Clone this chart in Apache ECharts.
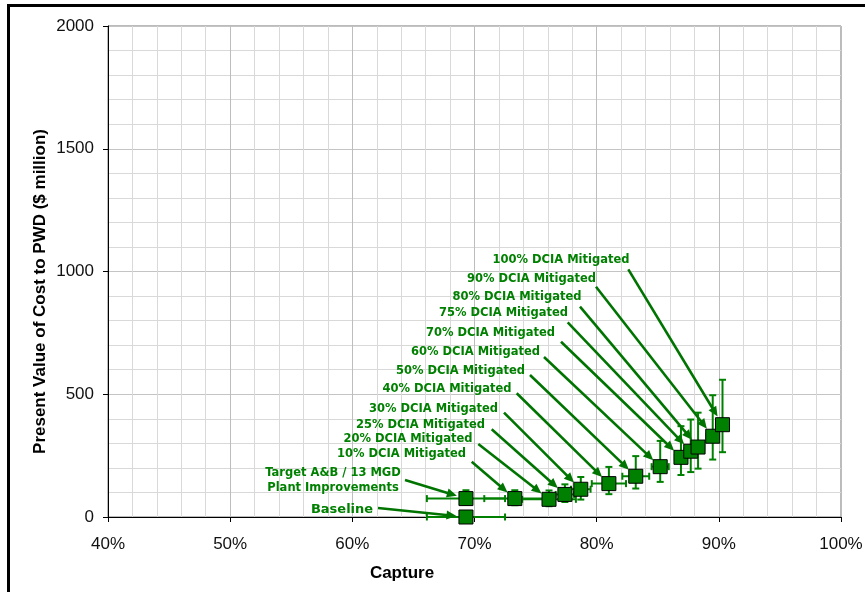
<!DOCTYPE html>
<html>
<head>
<meta charset="utf-8">
<script src="https://cdn.jsdelivr.net/npm/echarts@6/dist/echarts.min.js"></script>
<style>
html,body{margin:0;padding:0;background:#fff;}
#chart{width:865px;height:592px;}
</style>
</head>
<body>
<div id="chart"></div>
<script>
// ---------- DATA ----------
const categories = [
  'Baseline',
  'Target A&B / 13 MGD\nPlant Improvements',
  '10% DCIA Mitigated',
  '20% DCIA Mitigated',
  '25% DCIA Mitigated',
  '30% DCIA Mitigated',
  '40% DCIA Mitigated',
  '50% DCIA Mitigated',
  '60% DCIA Mitigated',
  '70% DCIA Mitigated',
  '75% DCIA Mitigated',
  '80% DCIA Mitigated',
  '90% DCIA Mitigated',
  '100% DCIA Mitigated'
];
const capturePct   = [69.3, 69.3, 73.3, 76.1, 77.4, 78.7, 81.0, 83.2, 85.2, 86.9, 87.7, 88.3, 89.5, 90.3];
const costMillion  = [0, 75, 75, 72, 92, 113, 136, 166, 205, 243, 268, 285, 329, 376];
const costErrUp    = [0, 34, 34, 36, 41, 50, 68, 82, 105, 127, 129, 140, 167, 183];
const costErrDown  = [0, 25, 27, 28, 31, 42, 43, 50, 62, 72, 85, 88, 95, 112];
const captureErr   = [3.2, 3.2, 2.5, 2.2, 0.75, 0.8, 1.4, 1.1, 0.7, 0.5, 0.5, 0.5, 0.5, 0.4];

const xTicks = [40, 50, 60, 70, 80, 90, 100];
const yTicks = [0, 500, 1000, 1500, 2000];

// ---------- LAYOUT (pixel positions of annotation text and arrow tails) ----------
const labelCenters = [
  [342, 510], [333, 481], [401.5, 454.5], [408, 439.5], [420.5, 425.5], [433.5, 409],
  [447, 389], [460.5, 371], [475.5, 352], [490.5, 333], [503.5, 313], [517, 297],
  [531.5, 279], [561, 260]
];
const arrowStarts = [
  [378, 508], [405, 480], [471.7, 461.7], [478.3, 444], [491.7, 429.3], [504, 412.7],
  [516.7, 393.3], [530, 375], [544, 357], [561, 341.7], [567.7, 322.3], [580, 306.7],
  [596, 286.7], [628.3, 269.3]
];

const green = '#008000';
const arrowGreen = '#007400';
const labelFont = 'bold 11.5px "DejaVu Sans", Verdana, sans-serif';
const baselineFont = 'bold 13px "DejaVu Sans", Verdana, sans-serif';

const points = capturePct.map((x, i) => [x, costMillion[i], costErrUp[i], costErrDown[i], captureErr[i]]);

const chart = echarts.init(document.getElementById('chart'), null, {renderer: 'canvas'});

function errRender(params, api) {
  const x = api.value(0), y = api.value(1), up = api.value(2), dn = api.value(3), xe = api.value(4);
  const st = {stroke: green, lineWidth: 2};
  const ch = [];
  const cap = 3.5;
  if (up + dn > 0) {
    const t = api.coord([x, y + up]);
    const b = api.coord([x, y - dn]);
    ch.push({type: 'line', shape: {x1: t[0], y1: t[1], x2: b[0], y2: b[1]}, style: st});
    ch.push({type: 'line', shape: {x1: t[0] - cap, y1: t[1], x2: t[0] + cap, y2: t[1]}, style: st});
    ch.push({type: 'line', shape: {x1: b[0] - cap, y1: b[1], x2: b[0] + cap, y2: b[1]}, style: st});
  }
  if (xe > 0) {
    const l = api.coord([x - xe, y]);
    const r = api.coord([x + xe, y]);
    ch.push({type: 'line', shape: {x1: l[0], y1: l[1], x2: r[0], y2: r[1]}, style: st});
    ch.push({type: 'line', shape: {x1: l[0], y1: l[1] - cap, x2: l[0], y2: l[1] + cap}, style: st});
    ch.push({type: 'line', shape: {x1: r[0], y1: r[1] - cap, x2: r[0], y2: r[1] + cap}, style: st});
  }
  return {type: 'group', children: ch};
}

function annRender(params, api) {
  const i = params.dataIndex;
  const p = api.coord([api.value(0), api.value(1)]);
  const s = arrowStarts[i];
  const c = labelCenters[i];
  const dx = p[0] - s[0], dy = p[1] - s[1];
  const len = Math.hypot(dx, dy);
  const ux = dx / len, uy = dy / len;
  const tip = [p[0] - ux * 9.5, p[1] - uy * 9.5];
  const L = 10, W = 4.5;
  const base = [tip[0] - ux * L, tip[1] - uy * L];
  const head = [tip, [base[0] - uy * W, base[1] + ux * W], [base[0] + uy * W, base[1] - ux * W]];
  const font = i === 0 ? baselineFont : labelFont;
  return {
    type: 'group',
    children: [
      {type: 'line', shape: {x1: s[0], y1: s[1], x2: base[0] + ux * 2, y2: base[1] + uy * 2},
       style: {stroke: arrowGreen, lineWidth: 2.6}},
      {type: 'polygon', shape: {points: head}, style: {fill: arrowGreen}},
      {type: 'text', x: c[0], y: c[1],
       style: {text: categories[i], font: font, fill: green, lineHeight: 15,
               align: 'center', verticalAlign: 'middle',
               textAlign: 'center', textVerticalAlign: 'middle'}}
    ]
  };
}

const option = {
  animation: false,
  backgroundColor: '#ffffff',
  grid: {
    left: 108, top: 26, right: 24, bottom: 75,
    show: true, borderColor: '#777', borderWidth: 1,
    containLabel: false, outerBoundsMode: 'none'
  },
  xAxis: {
    type: 'value',
    min: xTicks[0], max: xTicks[xTicks.length - 1], interval: 10,
    axisLine: {show: true, onZero: false, lineStyle: {color: '#000', width: 1}},
    axisTick: {show: true, length: 5, lineStyle: {color: '#000'}},
    axisLabel: {margin: 19, fontSize: 17, color: '#111', fontFamily: '"Liberation Sans", Arial, sans-serif',
                formatter: v => v + '%'},
    splitLine: {show: true, lineStyle: {color: '#bdbdbd', width: 1}},
    minorTick: {show: false, splitNumber: 5},
    minorSplitLine: {show: true, lineStyle: {color: '#d9d9d9', width: 1}}
  },
  yAxis: {
    type: 'value',
    min: yTicks[0], max: yTicks[yTicks.length - 1], interval: 500,
    axisLine: {show: true, onZero: false, lineStyle: {color: '#000', width: 1}},
    axisTick: {show: true, length: 5, lineStyle: {color: '#000'}},
    axisLabel: {margin: 14, fontSize: 17, color: '#111', fontFamily: '"Liberation Sans", Arial, sans-serif',
                formatter: v => String(v)},
    splitLine: {show: true, lineStyle: {color: '#c4c4c4', width: 1}},
    minorTick: {show: false, splitNumber: 5},
    minorSplitLine: {show: true, lineStyle: {color: '#d9d9d9', width: 1}}
  },
  series: [
    {
      type: 'custom', name: 'errors', data: points, renderItem: errRender,
      encode: {x: 0, y: 1}, z: 3, clip: false, silent: true
    },
    {
      type: 'custom', name: 'annotations', data: points, renderItem: annRender,
      encode: {x: 0, y: 1}, z: 4, clip: false, silent: true
    },
    {
      type: 'scatter', name: 'scenarios', data: points.map(p => [p[0], p[1]]),
      symbol: 'rect', symbolSize: 14, z: 5,
      itemStyle: {color: green, borderColor: '#000', borderWidth: 1, opacity: 1}
    }
  ],
  graphic: [
    {type: 'rect', shape: {x: 8.5, y: 5.5, width: 900, height: 700},
     style: {fill: 'none', stroke: '#000', lineWidth: 3}, silent: true, z: 10},
    {type: 'text', x: 402, y: 573,
     style: {text: 'Capture', font: 'bold 17px "Liberation Sans", Arial, sans-serif', fill: '#000',
             align: 'center', verticalAlign: 'middle', textAlign: 'center', textVerticalAlign: 'middle'}},
    {type: 'text', x: 40, y: 291.5, rotation: Math.PI / 2,
     style: {text: 'Present Value of Cost to PWD ($ million)', font: 'bold 17px "Liberation Sans", Arial, sans-serif',
             fill: '#000', align: 'center', verticalAlign: 'middle', textAlign: 'center', textVerticalAlign: 'middle'}}
  ]
};
chart.setOption(option);
</script>
</body>
</html>
